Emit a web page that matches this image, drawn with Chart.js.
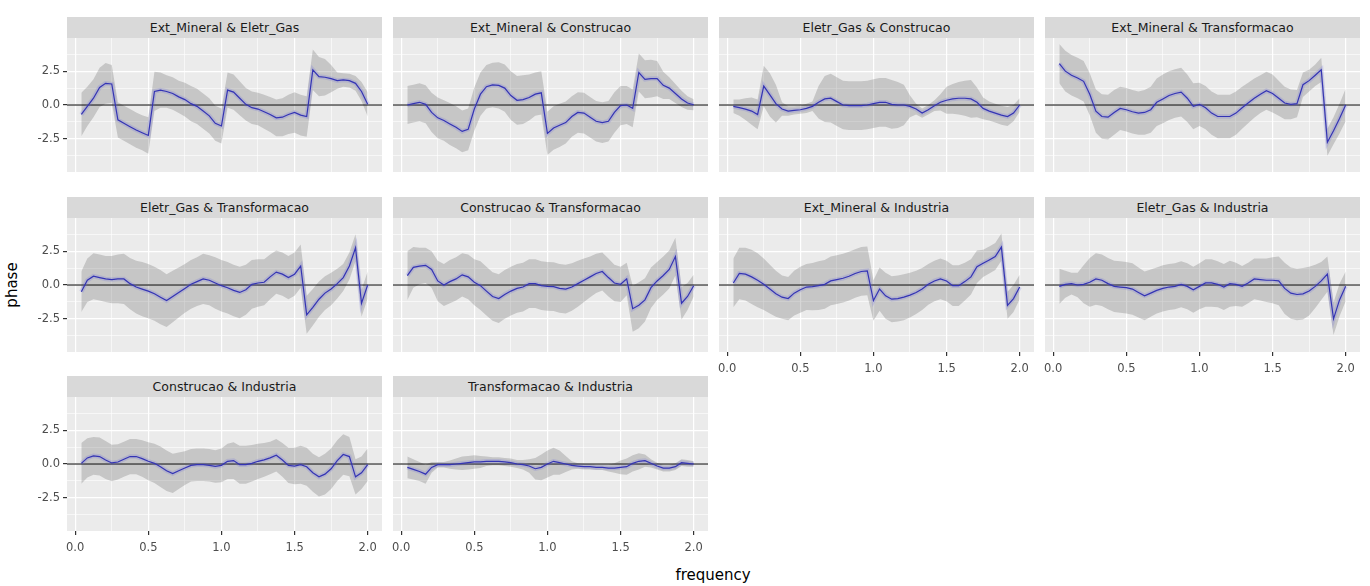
<!DOCTYPE html>
<html>
<head>
<meta charset="utf-8">
<script src="https://cdn.jsdelivr.net/npm/chart.js@4.4.0/dist/chart.umd.min.js"></script>
<style>
  body { margin: 0; background: #fff; width: 1370px; height: 586px; position: relative; overflow: hidden;
         font-family: "DejaVu Sans", sans-serif; }
  .strip { position: absolute; background: #d9d9d9; color: #1a1a1a; font-size: 12.5px; text-align: center; }
  .ytitle { position: absolute; left: -13px; top: 276px; width: 50px; text-align: center; font-size: 15px;
            color: #000; transform: rotate(-90deg); }
  .xtitle { position: absolute; left: 613px; top: 566px; width: 200px; text-align: center; font-size: 15px; color: #000; }
</style>
</head>
<body>
<div class="ytitle">phase</div>
<div class="xtitle">frequency</div>
<script>
// frequencies (cycles per year, quarterly data)
const frequency = [0.042, 0.083, 0.125, 0.167, 0.208, 0.250, 0.292, 0.333, 0.375, 0.417, 0.458, 0.500,
                   0.542, 0.583, 0.625, 0.667, 0.708, 0.750, 0.792, 0.833, 0.875, 0.917, 0.958, 1.000,
                   1.042, 1.083, 1.125, 1.167, 1.208, 1.250, 1.292, 1.333, 1.375, 1.417, 1.458, 1.500,
                   1.542, 1.583, 1.625, 1.667, 1.708, 1.750, 1.792, 1.833, 1.875, 1.917, 1.958, 2.000];

const panelNames = ['Ext_Mineral & Eletr_Gas', 'Ext_Mineral & Construcao', 'Eletr_Gas & Construcao',
                    'Ext_Mineral & Transformacao', 'Eletr_Gas & Transformacao', 'Construcao & Transformacao',
                    'Ext_Mineral & Industria', 'Eletr_Gas & Industria', 'Construcao & Industria',
                    'Transformacao & Industria'];

// phase estimates and half width of the confidence band, one pair per panel
const phaseMinEle = [-0.7, -0.1, 0.5, 1.3, 1.6, 1.55, -1.1, -1.35, -1.6, -1.85, -2.05, -2.25,
                     1.0, 1.1, 1.0, 0.85, 0.6, 0.4, 0.1, -0.1, -0.45, -0.8, -1.35, -1.55,
                     1.1, 0.95, 0.5, 0.05, -0.2, -0.3, -0.5, -0.7, -0.95, -0.9, -0.7, -0.55,
                     -0.75, -0.85, 2.6, 2.1, 2.05, 1.95, 1.8, 1.85, 1.8, 1.6, 1.0, 0.05];
const halfMinEle = [1.6, 1.45, 1.4, 1.45, 1.5, 1.4, 1.3, 1.3, 1.3, 1.3, 1.3, 1.35,
                    1.45, 1.3, 1.2, 1.2, 1.2, 1.25, 1.3, 1.3, 1.3, 1.3, 1.3, 1.3,
                    1.3, 1.3, 1.25, 1.2, 1.2, 1.2, 1.25, 1.3, 1.35, 1.4, 1.45, 1.5,
                    1.5, 1.5, 1.5, 1.45, 1.35, 1.0, 0.6, 0.5, 0.5, 0.55, 0.7, 0.9];

const phaseMinCon = [0.0, 0.1, 0.2, 0.05, -0.55, -0.95, -1.15, -1.4, -1.65, -1.95, -1.8, -0.3,
                     0.8, 1.35, 1.48, 1.45, 1.25, 0.7, 0.35, 0.4, 0.55, 0.8, 0.9, -2.1,
                     -1.7, -1.5, -1.3, -0.85, -0.55, -0.6, -0.9, -1.2, -1.3, -1.2, -0.55, -0.05,
                     0.0, -0.25, 2.4, 1.9, 1.95, 1.95, 1.45, 1.25, 0.85, 0.45, 0.15, 0.02];
const halfMinCon = [1.4, 1.4, 1.4, 1.4, 1.45, 1.5, 1.5, 1.55, 1.55, 1.55, 1.55, 1.6,
                    1.6, 1.6, 1.65, 1.7, 1.75, 1.8, 1.8, 1.8, 1.7, 1.6, 1.6, 1.6,
                    1.6, 1.6, 1.55, 1.5, 1.5, 1.5, 1.5, 1.5, 1.5, 1.5, 1.5, 1.45,
                    1.4, 1.4, 1.4, 1.4, 1.4, 1.3, 1.0, 0.8, 0.7, 0.6, 0.5, 0.4];

const phaseEleCon = [-0.1, -0.2, -0.3, -0.45, -0.7, 1.4, 0.75, 0.1, -0.3, -0.45, -0.4, -0.35,
                     -0.25, -0.1, 0.2, 0.45, 0.5, 0.25, 0.0, -0.05, -0.05, -0.05, 0.0, 0.1,
                     0.2, 0.2, 0.05, 0.0, 0.0, -0.1, -0.3, -0.6, -0.35, -0.05, 0.2, 0.35,
                     0.45, 0.5, 0.5, 0.45, 0.2, -0.25, -0.45, -0.6, -0.75, -0.85, -0.6, 0.0];
const halfEleCon = [0.5, 0.6, 0.8, 1.0, 1.1, 1.5, 1.6, 1.4, 0.5, 0.35, 0.3, 0.3,
                    0.35, 0.35, 1.2, 1.7, 1.8, 1.8, 1.8, 1.8, 1.8, 1.8, 1.8, 1.8,
                    1.8, 1.8, 1.8, 1.7, 1.5, 0.8, 0.4, 0.35, 0.35, 0.4, 0.6, 1.0,
                    1.1, 1.2, 1.3, 1.4, 1.1, 0.8, 0.7, 0.7, 0.7, 0.7, 0.6, 0.5];

const phaseMinTra = [3.05, 2.5, 2.2, 2.0, 1.75, 0.8, -0.45, -0.85, -0.9, -0.55, -0.25, -0.35,
                     -0.5, -0.6, -0.55, -0.35, 0.2, 0.45, 0.7, 0.85, 0.95, 0.5, -0.1, 0.05,
                     -0.2, -0.6, -0.85, -0.85, -0.85, -0.6, -0.2, 0.15, 0.5, 0.8, 1.05, 0.85,
                     0.5, 0.15, 0.05, 0.1, 1.5, 1.8, 2.2, 2.6, -2.75, -1.9, -1.0, 0.0];
const halfMinTra = [1.45, 1.5, 1.5, 1.5, 1.5, 1.55, 1.6, 1.65, 1.65, 1.65, 1.6, 1.6,
                    1.6, 1.6, 1.65, 1.7, 1.75, 1.8, 1.8, 1.8, 1.8, 1.75, 1.7, 1.6,
                    1.6, 1.6, 1.6, 1.6, 1.6, 1.6, 1.55, 1.5, 1.45, 1.4, 1.4, 1.4,
                    1.3, 1.2, 1.1, 1.0, 0.9, 0.8, 0.8, 0.9, 1.0, 1.0, 1.1, 1.2];

const phaseEleTra = [-0.5, 0.35, 0.65, 0.55, 0.45, 0.4, 0.45, 0.45, 0.1, -0.15, -0.3, -0.45,
                     -0.65, -0.9, -1.15, -0.85, -0.55, -0.25, 0.05, 0.25, 0.45, 0.35, 0.15, -0.05,
                     -0.2, -0.4, -0.55, -0.35, 0.05, 0.15, 0.2, 0.6, 0.95, 0.8, 0.55, 0.8,
                     1.4, -2.2, -1.65, -1.05, -0.6, -0.3, 0.1, 0.55, 1.4, 2.75, -1.35, 0.0];
const halfEleTra = [1.5, 1.6, 1.7, 1.7, 1.7, 1.75, 1.8, 1.85, 1.9, 1.95, 2.0, 2.0,
                    2.0, 2.0, 1.95, 1.9, 1.85, 1.8, 1.8, 1.8, 1.85, 1.85, 1.9, 1.9,
                    1.9, 1.9, 1.9, 1.85, 1.8, 1.75, 1.7, 1.65, 1.6, 1.6, 1.6, 1.6,
                    1.6, 1.4, 1.35, 1.3, 1.25, 1.2, 1.1, 1.0, 1.0, 1.0, 1.0, 1.0];

const phaseConTra = [0.7, 1.3, 1.4, 1.45, 1.15, 0.3, 0.0, 0.25, 0.45, 0.75, 0.6, 0.2,
                     -0.05, -0.45, -0.85, -1.0, -0.7, -0.45, -0.25, -0.15, 0.1, 0.1, -0.05, -0.1,
                     -0.12, -0.25, -0.3, -0.15, 0.1, 0.35, 0.6, 0.85, 1.0, 0.55, 0.15, 0.05,
                     0.45, -1.75, -1.5, -1.1, -0.2, 0.3, 0.7, 1.15, 2.1, -1.35, -0.85, -0.05];
const halfConTra = [1.8, 1.5, 1.35, 1.3, 1.35, 1.5, 1.55, 1.6, 1.6, 1.6, 1.65, 1.7,
                    1.8, 1.8, 1.8, 1.8, 1.8, 1.8, 1.8, 1.8, 1.8, 1.8, 1.8, 1.8,
                    1.8, 1.8, 1.8, 1.75, 1.7, 1.6, 1.5, 1.45, 1.4, 1.4, 1.35, 1.3,
                    1.2, 1.7, 1.7, 1.6, 1.5, 1.4, 1.4, 1.4, 1.4, 1.2, 1.0, 0.8];

const phaseMinInd = [0.15, 0.85, 0.8, 0.6, 0.35, 0.05, -0.3, -0.65, -0.9, -1.0, -0.6, -0.35,
                     -0.15, -0.12, -0.05, 0.05, 0.3, 0.4, 0.5, 0.65, 0.85, 1.0, 1.05, -1.15,
                     -0.3, -0.8, -1.05, -1.0, -0.9, -0.75, -0.55, -0.3, 0.05, 0.3, 0.45, 0.3,
                     -0.05, -0.05, 0.25, 0.6, 1.35, 1.6, 1.85, 2.1, 2.8, -1.5, -1.0, -0.15];
const halfMinInd = [1.8, 1.9, 1.95, 2.0, 2.0, 1.9, 1.8, 1.7, 1.6, 1.6, 1.65, 1.7,
                    1.7, 1.75, 1.8, 1.8, 1.8, 1.8, 1.8, 1.8, 1.8, 1.8, 1.8, 1.5,
                    1.6, 1.7, 1.7, 1.7, 1.7, 1.65, 1.6, 1.55, 1.5, 1.5, 1.5, 1.5,
                    1.5, 1.5, 1.4, 1.3, 1.2, 1.0, 1.0, 1.0, 1.0, 1.0, 1.0, 0.9];

const phaseEleInd = [-0.1, 0.05, 0.1, 0.0, 0.05, 0.2, 0.45, 0.35, 0.1, -0.1, -0.15, -0.2,
                     -0.3, -0.55, -0.8, -0.6, -0.4, -0.25, -0.15, -0.1, 0.05, -0.1, -0.35, -0.1,
                     0.15, 0.15, 0.05, -0.15, 0.1, 0.05, -0.1, 0.15, 0.45, 0.4, 0.35, 0.35,
                     0.3, -0.25, -0.6, -0.7, -0.65, -0.45, -0.1, 0.3, 0.8, -2.5, -1.1, -0.1];
const halfEleInd = [1.3, 1.0, 0.8, 0.9, 1.4, 1.8, 1.9, 1.9, 1.9, 1.9, 1.9, 1.9,
                    1.9, 1.85, 1.8, 1.75, 1.7, 1.7, 1.7, 1.7, 1.7, 1.7, 1.7, 1.7,
                    1.75, 1.75, 1.7, 1.7, 1.7, 1.6, 1.5, 1.5, 1.5, 1.55, 1.6, 1.7,
                    1.8, 1.9, 1.9, 1.9, 1.9, 1.8, 1.6, 1.4, 1.3, 1.2, 1.2, 1.1];

const phaseConInd = [0.05, 0.45, 0.6, 0.55, 0.3, 0.08, 0.15, 0.35, 0.55, 0.55, 0.4, 0.2,
                     0.05, -0.2, -0.5, -0.7, -0.5, -0.3, -0.1, -0.05, -0.05, -0.1, -0.18, -0.1,
                     0.2, 0.25, -0.05, -0.05, 0.05, 0.2, 0.3, 0.45, 0.65, 0.3, -0.1, -0.15,
                     -0.05, -0.2, -0.65, -0.95, -0.75, -0.35, 0.25, 0.7, 0.55, -0.95, -0.65, -0.05];
const halfConInd = [1.5, 1.45, 1.4, 1.4, 1.4, 1.35, 1.3, 1.3, 1.3, 1.3, 1.35, 1.4,
                    1.45, 1.5, 1.5, 1.45, 1.35, 1.25, 1.2, 1.2, 1.2, 1.2, 1.2, 1.25,
                    1.3, 1.35, 1.4, 1.4, 1.35, 1.3, 1.25, 1.2, 1.2, 1.25, 1.3, 1.35,
                    1.4, 1.4, 1.4, 1.45, 1.5, 1.5, 1.5, 1.5, 1.45, 1.3, 1.2, 1.2];

const phaseTraInd = [-0.25, -0.4, -0.55, -0.75, -0.25, -0.05, -0.05, -0.05, 0.0, 0.05, 0.1, 0.15,
                     0.15, 0.2, 0.2, 0.2, 0.15, 0.1, 0.0, -0.05, -0.15, -0.35, -0.25, 0.0,
                     0.2, 0.1, 0.0, -0.1, -0.15, -0.2, -0.2, -0.25, -0.25, -0.3, -0.3, -0.25,
                     -0.2, 0.05, 0.2, 0.25, 0.05, -0.15, -0.3, -0.3, -0.2, 0.1, 0.05, 0.0];
const halfTraInd = [0.8, 0.75, 0.7, 0.7, 0.4, 0.2, 0.2, 0.3, 0.4, 0.5, 0.5, 0.5,
                    0.45, 0.35, 0.3, 0.3, 0.3, 0.3, 0.3, 0.35, 0.5, 0.8, 0.95, 1.0,
                    1.0, 0.9, 0.6, 0.3, 0.2, 0.2, 0.2, 0.2, 0.2, 0.25, 0.35, 0.5,
                    0.6, 0.6, 0.6, 0.45, 0.3, 0.25, 0.25, 0.25, 0.25, 0.25, 0.25, 0.2];

const phaseSeries = [phaseMinEle, phaseMinCon, phaseEleCon, phaseMinTra, phaseEleTra,
                     phaseConTra, phaseMinInd, phaseEleInd, phaseConInd, phaseTraInd];
const halfSeries = [halfMinEle, halfMinCon, halfEleCon, halfMinTra, halfEleTra,
                    halfConTra, halfMinInd, halfEleInd, halfConInd, halfTraInd];

// axis breaks
const xTicks = [0, 0.25, 0.5, 0.75, 1, 1.25, 1.5, 1.75, 2];
const xLabels = [0, 0.5, 1, 1.5, 2];
const yTicks = [-3.75, -2.5, -1.25, 0, 1.25, 2.5, 3.75];
const yLabels = [-2.5, 0, 2.5];
const xMin = -0.056, xMax = 2.098;
const yMin = -4.95, yMax = 4.95;

// layout of the facet grid
const colLeft = [67, 393, 719, 1045];
const rowTop = [38, 218, 397];
const panelW = 315, panelH = 134, stripH = 21;
const M = 12;

Chart.defaults.font.family = "'DejaVu Sans', sans-serif";
Chart.defaults.font.size = 11.5;

const panelBg = {
    id: 'panelBg',
    beforeDraw(chart) {
        const a = chart.chartArea, ctx = chart.ctx;
        ctx.save();
        ctx.fillStyle = '#ebebeb';
        ctx.fillRect(a.left, a.top, a.right - a.left, a.bottom - a.top);
        ctx.restore();
    }
};

function makePanel(i) {
    const col = i % 4, row = Math.floor(i / 4);
    const showY = col === 0;
    const showX = row === 2 || (row === 1 && col >= 2);
    const padL = showY ? 55 : 0;
    const padB = showX ? 26 : 0;
    const left = colLeft[col], top = rowTop[row];

    const strip = document.createElement('div');
    strip.className = 'strip';
    strip.style.left = left + 'px';
    strip.style.top = (top - stripH) + 'px';
    strip.style.width = panelW + 'px';
    strip.style.height = stripH + 'px';
    strip.style.lineHeight = stripH + 'px';
    strip.textContent = panelNames[i];
    document.body.appendChild(strip);

    const cv = document.createElement('canvas');
    cv.width = panelW + padL + 2 * M;
    cv.height = panelH + padB + 2 * M;
    cv.style.position = 'absolute';
    cv.style.left = (left - padL - M) + 'px';
    cv.style.top = (top - M) + 'px';
    document.body.appendChild(cv);

    const phase = phaseSeries[i], half = halfSeries[i];
    const line = frequency.map((f, k) => ({ x: f, y: phase[k] }));
    const upper = frequency.map((f, k) => ({ x: f, y: phase[k] + half[k] }));
    const lower = frequency.map((f, k) => ({ x: f, y: phase[k] - half[k] }));

    new Chart(cv, {
        type: 'line',
        data: {
            datasets: [
                { data: line, borderColor: '#3434b4', borderWidth: 1.2, pointRadius: 0, fill: false, order: 0 },
                { data: line, borderColor: 'rgba(110,110,225,0.22)', borderWidth: 4.5, pointRadius: 0, fill: false, order: 1 },
                { data: [{ x: xMin, y: 0 }, { x: xMax, y: 0 }], borderColor: '#000', borderWidth: 1.1, pointRadius: 0, fill: false, order: 2 },
                { data: upper, borderWidth: 0, borderColor: 'rgba(0,0,0,0)', backgroundColor: 'rgba(51,51,51,0.2)', pointRadius: 0, fill: '+1', order: 3 },
                { data: lower, borderWidth: 0, borderColor: 'rgba(0,0,0,0)', pointRadius: 0, fill: false, order: 4 }
            ]
        },
        options: {
            responsive: false,
            devicePixelRatio: 1,
            animation: false,
            layout: { padding: M },
            plugins: { legend: { display: false }, tooltip: { enabled: false } },
            scales: {
                x: {
                    type: 'linear', min: xMin, max: xMax,
                    afterBuildTicks: s => { s.ticks = xTicks.map(v => ({ value: v })); },
                    afterFit: s => { s.height = padB; },
                    border: { display: false },
                    grid: {
                        color: '#ffffff',
                        lineWidth: c => xLabels.includes(c.tick.value) ? 1.2 : 0.6,
                        drawTicks: showX,
                        tickLength: 4,
                        tickColor: c => xLabels.includes(c.tick.value) ? '#333333' : 'rgba(0,0,0,0)'
                    },
                    ticks: {
                        display: showX, autoSkip: false, maxRotation: 0, padding: 6, color: '#4d4d4d',
                        callback: v => xLabels.includes(v) ? v.toFixed(1) : ''
                    }
                },
                y: {
                    type: 'linear', min: yMin, max: yMax,
                    afterBuildTicks: s => { s.ticks = yTicks.map(v => ({ value: v })); },
                    afterFit: s => { s.width = padL; },
                    border: { display: false },
                    grid: {
                        color: '#ffffff',
                        lineWidth: c => yLabels.includes(c.tick.value) ? 1.2 : 0.6,
                        drawTicks: showY,
                        tickLength: 4,
                        tickColor: c => yLabels.includes(c.tick.value) ? '#333333' : 'rgba(0,0,0,0)'
                    },
                    ticks: {
                        display: showY, autoSkip: false, padding: 3, color: '#4d4d4d',
                        callback: v => yLabels.includes(v) ? v.toFixed(1) : ''
                    }
                }
            }
        },
        plugins: [panelBg]
    });
}

for (let i = 0; i < panelNames.length; i++) makePanel(i);
</script>
</body>
</html>
